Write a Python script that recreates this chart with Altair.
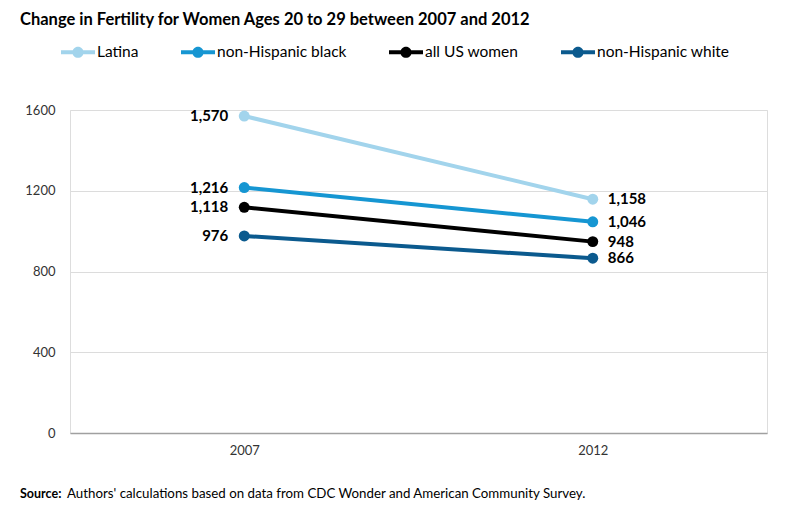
import altair as alt
import pandas as pd

title_text = "Change in Fertility for Women Ages 20 to 29 between 2007 and 2012"
source_bold = "Source:"
source_rest = "Authors' calculations based on data from CDC Wonder and American Community Survey."

years = ["2007", "2012"]
groups = ["Latina", "non-Hispanic black", "all US women", "non-Hispanic white"]
values_2007 = [1570, 1216, 1118, 976]
values_2012 = [1158, 1046, 948, 866]
colors = ["#a2d4ec", "#1696d2", "#000000", "#0b5a8e"]
y_ticks = [0, 400, 800, 1200, 1600]

rows = []
for g, a, b in zip(groups, values_2007, values_2012):
    rows.append({"group": g, "year": years[0], "value": a})
    rows.append({"group": g, "year": years[1], "value": b})
df = pd.DataFrame(rows)

W, H = 697, 323
FONT = "Lato"

legend_path = ("M-1,-0.12L1,-0.12L1,0.12L-1,0.12Z "
               "M-0.33,0A0.33,0.33 0 1,1 0.33,0A0.33,0.33 0 1,1 -0.33,0Z")

x_enc = alt.X("year:O", scale=alt.Scale(domain=years, padding=0.5),
              axis=alt.Axis(title=None, labelAngle=0, ticks=False, grid=False,
                            domain=True, domainColor="#a0a0a0", domainWidth=1.5,
                            labelPadding=11, labelFontSize=13, labelColor="#333333",
                            labelFont=FONT))
y_enc = alt.Y("value:Q", scale=alt.Scale(domain=[0, 1600], nice=False),
              axis=alt.Axis(title=None, values=y_ticks, format="d", ticks=False,
                            domain=False, grid=True, gridColor="#dcdcdc",
                            labelPadding=15, labelFontSize=13, labelColor="#333333",
                            labelFont=FONT))
color_scale = alt.Scale(domain=groups, range=colors)

legend = alt.Legend(title=None, orient="none", direction="horizontal",
                    legendX=-9, legendY=-75,
                    symbolType=legend_path, symbolSize=1156,
                    symbolStrokeWidth=0, labelOffset=2,
                    columnPadding=42, labelFontSize=15.5,
                    labelFont=FONT, labelColor="#000000",
                    padding=0)

base = alt.Chart(df)

lines = base.mark_line(strokeWidth=4).encode(
    x=x_enc, y=y_enc,
    color=alt.Color("group:N", scale=color_scale, legend=None),
    detail="group:N",
)

points = base.mark_point(filled=True, size=120, opacity=1).encode(
    x=x_enc, y=y_enc,
    color=alt.Color("group:N", scale=color_scale, legend=legend),
)

labels_left = base.transform_filter(alt.datum.year == years[0]).mark_text(
    align="right", dx=-16, fontSize=15, fontWeight="bold", font=FONT, color="#000000"
).encode(x=x_enc, y=y_enc, text=alt.Text("value:Q", format=","))

labels_right = base.transform_filter(alt.datum.year == years[1]).mark_text(
    align="left", dx=15, fontSize=15, fontWeight="bold", font=FONT, color="#000000"
).encode(x=x_enc, y=y_enc, text=alt.Text("value:Q", format=","))

src1 = alt.Chart(pd.DataFrame({"t": [source_bold]})).mark_text(
    align="left", baseline="middle", fontSize=12.5, fontWeight="bold", font=FONT, color="#000000"
).encode(x=alt.value(-50), y=alt.value(H + 61), text="t:N")

src2 = alt.Chart(pd.DataFrame({"t": [source_rest]})).mark_text(
    align="left", baseline="middle", fontSize=13.3, font=FONT, color="#000000"
).encode(x=alt.value(-3), y=alt.value(H + 61), text="t:N")

chart = alt.layer(lines, points, labels_left, labels_right, src1, src2).resolve_legend(
    color="independent"
).properties(
    width=W, height=H,
    title=alt.TitleParams(title_text, anchor="start", frame="group", dx=-50, dy=-3,
                          fontSize=16.5, fontWeight="bold", font=FONT, color="#000000"),
    padding={"left": 62, "top": 102, "right": 28, "bottom": 75},
    autosize=alt.AutoSizeParams(type="none"),
).configure_view(stroke=None).configure(background="white")

chart.save("out.html", embed_options={"renderer": "svg", "actions": False})
